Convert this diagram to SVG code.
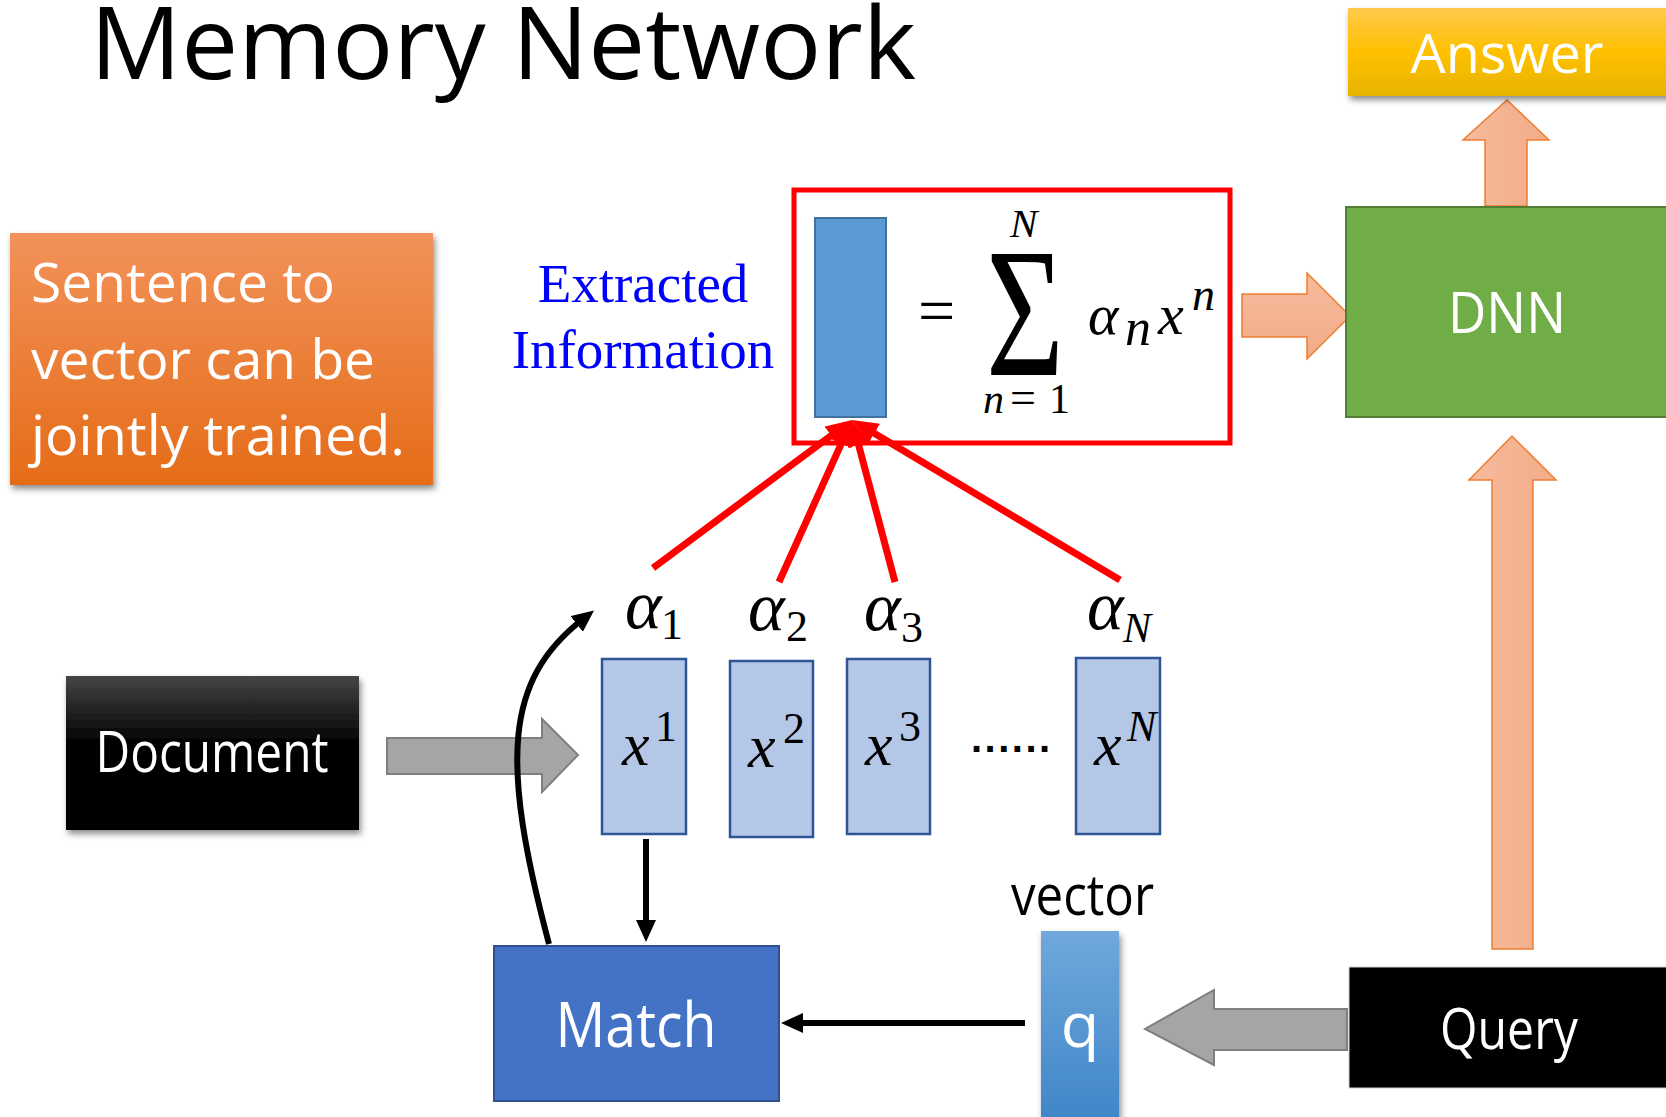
<svg xmlns="http://www.w3.org/2000/svg" width="1666" height="1117" viewBox="0 0 1666 1117">
  <style>
    .sans { font-family: "Open Sans", "Noto Sans", sans-serif; }
    .white { fill: #FFFFFF; }
    .math { font-family: "Liberation Serif", "DejaVu Serif", serif; fill: #000000; }
    .it { font-style: italic; }
    .vec { fill: #B4C7E7; stroke: #2F5597; stroke-width: 2.5; }
    .salmon { stroke: #ED7D31; stroke-width: 1.5; }
    .gray { fill: #A5A5A5; stroke: #7F7F7F; stroke-width: 2; }
    .red { stroke: #FF0000; stroke-width: 7; fill: none; marker-end: url(#redHead); }
    .blk { stroke: #000000; stroke-width: 6; fill: none; marker-end: url(#blackHead); }
  </style>
  <defs>
    <filter id="shadow" x="-10%" y="-10%" width="125%" height="130%">
      <feDropShadow dx="2" dy="4" stdDeviation="3" flood-color="#000000" flood-opacity="0.45"/>
    </filter>
    <linearGradient id="orangeGrad" x1="0" y1="0" x2="0" y2="1">
      <stop offset="0" stop-color="#F2925A"/>
      <stop offset="1" stop-color="#E56C18"/>
    </linearGradient>
    <linearGradient id="goldGrad" x1="0" y1="0" x2="0" y2="1">
      <stop offset="0" stop-color="#FFCA4C"/>
      <stop offset="0.5" stop-color="#FFC000"/>
      <stop offset="1" stop-color="#E6B400"/>
    </linearGradient>
    <linearGradient id="docGrad" x1="0" y1="0" x2="0" y2="1">
      <stop offset="0" stop-color="#454545"/>
      <stop offset="0.45" stop-color="#000000"/>
      <stop offset="1" stop-color="#000000"/>
    </linearGradient>
    <linearGradient id="qGrad" x1="0" y1="0" x2="0" y2="1">
      <stop offset="0" stop-color="#70A8DC"/>
      <stop offset="1" stop-color="#3F86C8"/>
    </linearGradient>
    <linearGradient id="salmonH" x1="0" y1="0" x2="1" y2="0">
      <stop offset="0" stop-color="#F6BB9D"/>
      <stop offset="1" stop-color="#F3AB88"/>
    </linearGradient>
    <linearGradient id="salmonV" x1="0" y1="0" x2="0" y2="1">
      <stop offset="0" stop-color="#F6BB9D"/>
      <stop offset="1" stop-color="#F3AB88"/>
    </linearGradient>
    <marker id="redHead" markerUnits="userSpaceOnUse" viewBox="0 0 26 22" markerWidth="26" markerHeight="22" refX="8" refY="11" orient="auto">
      <path d="M0,0 L26,11 L0,22 z" fill="#FF0000"/>
    </marker>
    <marker id="blackHead" markerUnits="userSpaceOnUse" viewBox="0 0 22 20" markerWidth="22" markerHeight="20" refX="8" refY="10" orient="auto">
      <path d="M0,0 L22,10 L0,20 z" fill="#000000"/>
    </marker>
  </defs>

  <rect x="0" y="0" width="1666" height="1117" fill="#FFFFFF"/>

  <!-- heading -->
  <text class="sans" x="90" y="79" font-size="101" textLength="826" lengthAdjust="spacingAndGlyphs" fill="#000000">Memory Network</text>

  <!-- side note -->
  <g id="note">
    <rect x="10" y="233" width="423" height="252" fill="url(#orangeGrad)" filter="url(#shadow)"/>
    <text class="sans white" x="31" y="302" font-size="54" textLength="304" lengthAdjust="spacingAndGlyphs">Sentence to</text>
    <text class="sans white" x="31" y="379" font-size="54" textLength="344" lengthAdjust="spacingAndGlyphs">vector can be</text>
    <text class="sans white" x="31" y="455" font-size="54" textLength="374" lengthAdjust="spacingAndGlyphs">jointly trained.</text>
  </g>

  <!-- connectors -->
  <g id="connectors">
    <!-- Document feeds the sentence vectors -->
    <path class="gray" d="M387,738 L542,738 L542,719 L578,755 L542,792 L542,774 L387,774 z"/>
    <!-- Query feeds q -->
    <path class="gray" d="M1347,1009 L1214,1009 L1214,990 L1145,1029 L1214,1065 L1214,1050 L1347,1050 z"/>
    <!-- weighted sum feeds DNN -->
    <path class="salmon" fill="url(#salmonV)" d="M1242,294 L1307,294 L1307,273 L1350,316 L1307,359 L1307,337 L1242,337 z"/>
    <!-- DNN to Answer -->
    <path class="salmon" fill="url(#salmonH)" d="M1485,206 L1485,140 L1463,140 L1507,100 L1549,140 L1527,140 L1527,206 z"/>
    <!-- Query to DNN -->
    <path class="salmon" fill="url(#salmonH)" d="M1492,949 L1492,480 L1469,480 L1512,436 L1556,480 L1533,480 L1533,949 z"/>
    <!-- attention weights into the extracted vector -->
    <line class="red" x1="653" y1="568" x2="837.6" y2="430.7"/>
    <line class="red" x1="779" y1="582" x2="844.6" y2="436.4"/>
    <line class="red" x1="895" y1="582" x2="856.6" y2="437.4"/>
    <line class="red" x1="1120" y1="580" x2="867.5" y2="429.2"/>
    <!-- match loop -->
    <line class="blk" x1="646" y1="839" x2="646" y2="928"/>
    <line class="blk" x1="1025" y1="1023" x2="795" y2="1023"/>
    <path class="blk" d="M549,944 C500,760 505,680 583,619"/>
  </g>

  <!-- weighted sum -->
  <g id="sum">
    <rect x="794" y="190" width="436" height="253" fill="none" stroke="#FF0000" stroke-width="5"/>
    <rect x="815" y="218" width="71" height="199" fill="#5B9BD5" stroke="#41719C" stroke-width="2"/>
    <text class="math" x="918" y="333" font-size="66">=</text>
    <text class="math" x="986" y="375" font-size="184" textLength="78" lengthAdjust="spacingAndGlyphs">Σ</text>
    <text class="math it" x="1010" y="237" font-size="41">N</text>
    <text class="math it" x="983" y="413" font-size="42">n</text>
    <text class="math" x="1010" y="413" font-size="46">=</text>
    <text class="math" x="1049" y="413" font-size="42">1</text>
    <text class="math it" x="1088" y="334" font-size="58">α</text>
    <text class="math it" x="1125" y="345" font-size="52">n</text>
    <text class="math it" x="1158" y="334" font-size="58">x</text>
    <text class="math it" x="1192" y="310" font-size="46">n</text>
  </g>

  <g id="extracted-label">
    <text x="643" y="302" font-family="Liberation Serif, serif" font-size="55" fill="#0000FF" text-anchor="middle">Extracted</text>
    <text x="643" y="368" font-family="Liberation Serif, serif" font-size="55" fill="#0000FF" text-anchor="middle">Information</text>
  </g>

  <!-- attention weights -->
  <g id="alphas">
    <text class="math it" x="625" y="628" font-size="70">α</text>
    <text class="math" x="661" y="639" font-size="44">1</text>
    <text class="math it" x="748" y="630" font-size="70">α</text>
    <text class="math" x="786" y="641" font-size="44">2</text>
    <text class="math it" x="864" y="630" font-size="70">α</text>
    <text class="math" x="901" y="642" font-size="44">3</text>
    <text class="math it" x="1087" y="629" font-size="70">α</text>
    <text class="math it" x="1123" y="642" font-size="42">N</text>
  </g>

  <!-- sentence vectors -->
  <g id="x1">
    <rect class="vec" x="602" y="659" width="84" height="175"/>
    <text class="math it" x="622" y="765" font-size="62">x</text>
    <text class="math" x="655" y="741" font-size="44">1</text>
  </g>
  <g id="x2">
    <rect class="vec" x="730" y="661" width="83" height="176"/>
    <text class="math it" x="748" y="767" font-size="62">x</text>
    <text class="math" x="783" y="743" font-size="44">2</text>
  </g>
  <g id="x3">
    <rect class="vec" x="847" y="659" width="83" height="175"/>
    <text class="math it" x="865" y="765" font-size="62">x</text>
    <text class="math" x="899" y="741" font-size="44">3</text>
  </g>
  <g id="ellipsis">
    <text x="971" y="752" font-family="Liberation Sans, sans-serif" font-size="40" font-weight="bold" letter-spacing="2.5" fill="#000000">......</text>
  </g>
  <g id="xN">
    <rect class="vec" x="1076" y="658" width="84" height="176"/>
    <text class="math it" x="1094" y="765" font-size="62">x</text>
    <text class="math it" x="1127" y="741" font-size="44">N</text>
  </g>

  <g id="document">
    <rect x="66" y="676" width="293" height="154" fill="url(#docGrad)" filter="url(#shadow)"/>
    <text class="sans white" x="212" y="772" font-size="56" text-anchor="middle" textLength="233" lengthAdjust="spacingAndGlyphs">Document</text>
  </g>

  <g id="match">
    <rect x="494" y="946" width="285" height="155" fill="#4472C4" stroke="#2F528F" stroke-width="2"/>
    <text class="sans white" x="636" y="1047" font-size="63" text-anchor="middle" textLength="161" lengthAdjust="spacingAndGlyphs">Match</text>
  </g>

  <g id="query-vector">
    <text class="sans" x="1011" y="915" font-size="56" fill="#000000" textLength="143" lengthAdjust="spacingAndGlyphs">vector</text>
    <rect x="1041" y="931" width="78" height="190" fill="url(#qGrad)" filter="url(#shadow)"/>
    <text class="sans white" x="1080" y="1047" font-size="63" text-anchor="middle">q</text>
  </g>

  <g id="query">
    <rect x="1349" y="967" width="320" height="121" fill="#000000" stroke="#D0D0D0" stroke-width="1"/>
    <text class="sans white" x="1509" y="1049" font-size="57" text-anchor="middle" textLength="138" lengthAdjust="spacingAndGlyphs">Query</text>
  </g>

  <g id="dnn">
    <rect x="1346" y="207" width="324" height="210" fill="#70AD47" stroke="#507E32" stroke-width="2"/>
    <text class="sans white" x="1507" y="333" font-size="56" text-anchor="middle" textLength="118" lengthAdjust="spacingAndGlyphs">DNN</text>
  </g>

  <g id="answer">
    <rect x="1348" y="8" width="322" height="88" fill="url(#goldGrad)" filter="url(#shadow)"/>
    <text class="sans white" x="1507" y="73" font-size="55" text-anchor="middle" textLength="193" lengthAdjust="spacingAndGlyphs">Answer</text>
  </g>
</svg>
